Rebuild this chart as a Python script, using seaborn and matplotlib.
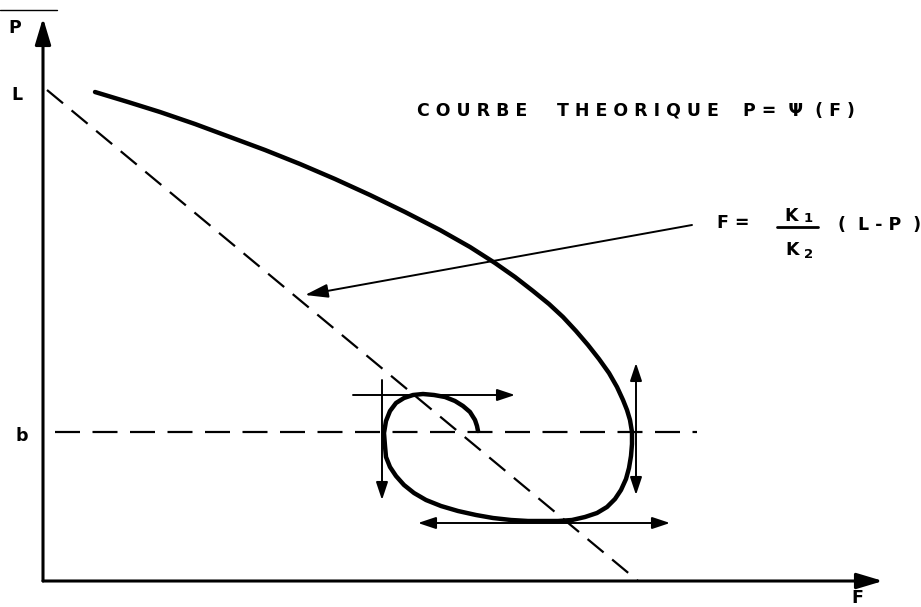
import numpy as np
import pandas as pd
import matplotlib
matplotlib.use("Agg")
import matplotlib.pyplot as plt
import seaborn as sns

sns.set_theme(style="white")
plt.rcParams['font.family'] = ['DejaVu Sans']
plt.rcParams['lines.scale_dashes'] = False

# ---- data (F, P) for the theoretical curve P = psi(F) ----
curve_F = [52, 85, 117, 152, 187, 222, 257, 292, 327, 362, 397, 427, 452, 472, 490, 506,
           520, 533, 545, 556, 566, 574, 580, 584, 587, 589, 589, 588, 586, 583, 578, 572,
           564, 554, 542, 529, 515, 500, 485, 468, 450, 433, 415, 398, 383, 371, 361, 353,
           347, 343, 342, 341, 343, 347, 353, 361, 370, 380, 391, 402, 412, 420, 427, 432,
           434, 435]
curve_P = [489, 479, 469, 457, 444, 431, 417, 402, 386, 369, 351, 334, 318, 304, 290, 277,
           264, 250, 236, 222, 208, 194, 181, 171, 161, 149, 137, 125, 113, 102, 91, 82,
           74, 68, 64, 61, 60, 60, 60, 61, 63, 66, 70, 75, 81, 88, 96, 105,
           114, 124, 135, 148, 160, 170, 178, 183, 186, 187, 186, 184, 180, 175, 169, 161,
           155, 150]

# reference levels
L_level = 486
b_level = 149
F_at_P0 = 595          # where F = K1/K2 (L-P) meets P = 0
F_max = 840
P_max = 563

# tangent arrows on the spiral
tangent_F0 = [310, 339, 593, 375]
tangent_P0 = [186, 201, 218, 58]
tangent_F1 = [472, 339, 593, 627]
tangent_P1 = [186, 81, 86, 58]
tangent_style = ['-|>', '-|>', '<|-|>', '<|-|>']

# annotation arrow pointing to the line F = K1/K2 (L-P)
annot_from = (649, 356)
annot_to = (262, 286)

fig = plt.figure(figsize=(9.21, 6.07), dpi=100)
ax = fig.add_axes([0, 0, 1, 1])
ax.set_xlim(-43, 878)
ax.set_ylim(-26, 581)
ax.axis('off')

df = pd.DataFrame({'F': curve_F, 'P': curve_P})
sns.lineplot(data=df, x='F', y='P', sort=False, estimator=None, ax=ax,
             color='black', linewidth=3.2, solid_joinstyle='round', solid_capstyle='round')

# axes with arrows
for xy in [(0, P_max), (F_max, 0)]:
    ax.annotate('', xy=xy, xytext=(0, 0),
                arrowprops=dict(arrowstyle='-|>,head_length=1.0,head_width=0.3', color='black',
                                lw=2.2, mutation_scale=16, shrinkA=0, shrinkB=0))

# dashed lines
ax.plot([4, F_at_P0], [491, 0], color='black', lw=1.6, dashes=(15, 8))
ax.plot([12, 654], [b_level, b_level], color='black', lw=1.6, dashes=(18, 9))

# tangent arrows
for f0, p0, f1, p1, st in zip(tangent_F0, tangent_P0, tangent_F1, tangent_P1, tangent_style):
    ax.annotate('', xy=(f1, p1), xytext=(f0, p0),
                arrowprops=dict(arrowstyle=st + ',head_length=0.9,head_width=0.3',
                                color='black', lw=1.4, mutation_scale=12,
                                shrinkA=0, shrinkB=0))

# annotation arrow
ax.annotate('', xy=annot_to, xytext=annot_from,
            arrowprops=dict(arrowstyle='-|>,head_length=1.0,head_width=0.3', color='black',
                            lw=1.4, mutation_scale=14, shrinkA=0, shrinkB=0))

# scan artifact line at top-left
ax.plot([-43, 14], [571, 571], color='black', lw=1.0)

fs = 12.5
tk = dict(color='black', fontweight='bold', fontsize=fs)
ax.text(-28, 553, 'P', ha='center', va='center', **tk)
ax.text(-26, L_level, 'L', ha='center', va='center', **tk)
ax.text(-21, 145, 'b', ha='center', va='center', **tk)
ax.text(814, -17, 'F', ha='center', va='center', **tk)

ax.text(374, 465, 'C O U R B E', ha='left', va='baseline', **tk)
ax.text(514, 465, 'T H E O R I Q U E', ha='left', va='baseline', **tk)
ax.text(700, 465, 'P =  Ψ  ( F )', ha='left', va='baseline', **tk)

ax.text(674, 358, 'F =', ha='left', va='center', **tk)
ax.text(748, 365, 'K', ha='center', va='center', **tk)
ax.text(765, 362, '1', ha='center', va='center', color='black', fontweight='bold', fontsize=9.5)
ax.plot([734, 775], [354, 354], color='black', lw=2.0)
ax.text(749, 331, 'K', ha='center', va='center', **tk)
ax.text(766, 326, '2', ha='center', va='center', color='black', fontweight='bold', fontsize=9.5)
ax.text(795, 356, '(  L - P  )', ha='left', va='center', **tk)

fig.savefig('out.png', dpi=100)
